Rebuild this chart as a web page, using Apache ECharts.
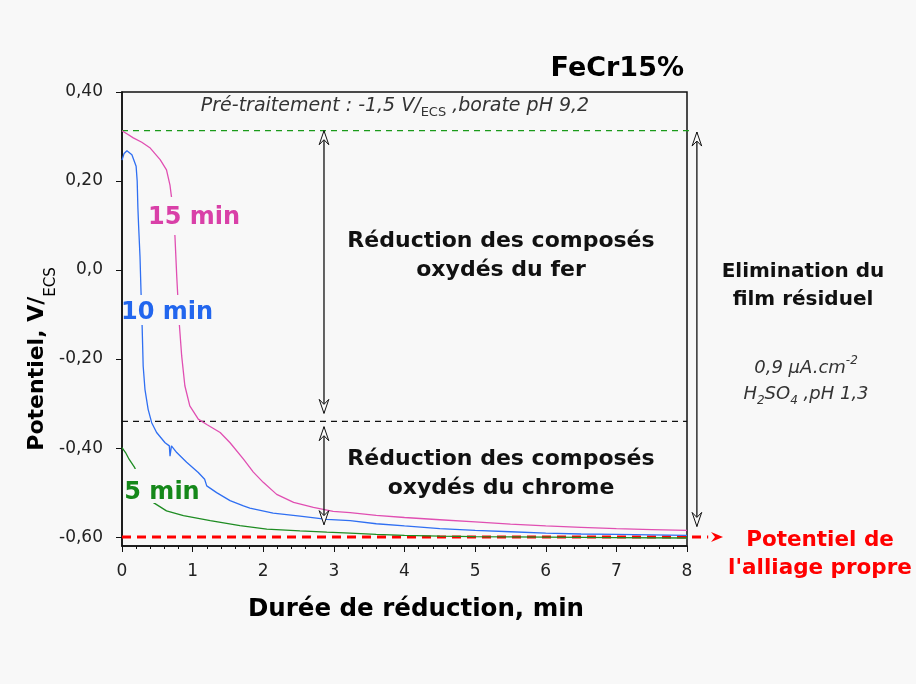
<!DOCTYPE html>
<html><head><meta charset="utf-8">
<script src="https://cdn.jsdelivr.net/npm/echarts@6.0.0/dist/echarts.min.js"></script>
<style>html,body{margin:0;padding:0;background:#f8f8f8;}#chart{width:916px;height:684px;}</style>
</head><body><div id="chart"></div>
<script>
// ---------- data ----------
const yTickValues = [-0.6, -0.4, -0.2, 0, 0.2, 0.4];
const yTickLabels = ['-0,60', '-0,40', '-0,20', '0,0', '0,20', '0,40'];
const seriesNames = ['15 min', '10 min', '5 min'];

// Durée de réduction (min), Potentiel (V/ECS)
const curve15min = [[0,0.313],[0.08,0.305],[0.16,0.297],[0.28,0.287],[0.40,0.274],[0.54,0.248],[0.63,0.225],[0.68,0.19],[0.70,0.165],[0.73,0.12],[0.75,0.075],[0.775,-0.014],[0.79,-0.059],[0.81,-0.118],[0.845,-0.193],[0.89,-0.26],[0.96,-0.305],[1.08,-0.335],[1.2,-0.347],[1.39,-0.365],[1.53,-0.388],[1.72,-0.425],[1.86,-0.454],[2.0,-0.477],[2.19,-0.504],[2.43,-0.522],[2.71,-0.533],[2.99,-0.542],[3.23,-0.545],[3.6,-0.551],[4,-0.556],[4.5,-0.561],[5,-0.566],[5.5,-0.571],[6,-0.575],[6.5,-0.578],[7,-0.581],[7.5,-0.583],[8,-0.585]];
const curve10min = [[0,0.247],[0.03,0.262],[0.07,0.268],[0.14,0.259],[0.20,0.233],[0.215,0.20],[0.225,0.14],[0.235,0.10],[0.255,0.03],[0.27,-0.052],[0.285,-0.126],[0.30,-0.216],[0.325,-0.268],[0.37,-0.313],[0.42,-0.343],[0.49,-0.365],[0.61,-0.388],[0.67,-0.395],[0.68,-0.418],[0.70,-0.395],[0.775,-0.41],[0.915,-0.432],[1.08,-0.455],[1.17,-0.47],[1.20,-0.485],[1.34,-0.50],[1.53,-0.518],[1.72,-0.530],[1.81,-0.535],[2.14,-0.546],[2.52,-0.553],[2.9,-0.560],[3.23,-0.563],[3.6,-0.570],[4,-0.575],[4.5,-0.581],[5,-0.585],[5.5,-0.588],[6,-0.591],[6.5,-0.593],[7,-0.594],[7.5,-0.595],[8,-0.596]];
const curve5min = [[0,-0.399],[0.05,-0.41],[0.10,-0.425],[0.18,-0.444],[0.25,-0.47],[0.33,-0.50],[0.44,-0.522],[0.63,-0.541],[0.87,-0.552],[1.25,-0.563],[1.67,-0.574],[2.05,-0.582],[2.52,-0.586],[2.9,-0.589],[3.23,-0.591],[3.6,-0.594],[4,-0.596],[4.5,-0.598],[5,-0.599],[6,-0.600],[7,-0.601],[8,-0.602]];

// reference levels: [x start, x end, potential]
const hLines = [[0, 8.05, 0.313], [0, 8, -0.34], [0, 8.3, -0.60]];
// vertical double arrows: [x, top potential, bottom potential]
const vArrows = [[2.86, 0.313, -0.322], [2.86, -0.352, -0.572], [8.14, 0.310, -0.576]];
// red arrow tip for clean-alloy potential
const redArrowTip = [[8.51, -0.60]];

// ---------- chart ----------
const F = 'DejaVu Sans';
const BG = '#f8f8f8';
const hLineStyles = [
  { stroke: '#1a9a1a', lineWidth: 1.3, lineDash: [6, 5] },
  { stroke: '#111', lineWidth: 1.3, lineDash: [6, 5] },
  { stroke: '#ff0000', lineWidth: 3, lineDash: [9, 6] }
];

function hollowHead(x, y, dir) {
  const L = 14, W = 4.8, N = 9;
  return { type: 'polygon', z2: 5,
    shape: { points: [[x, y], [x + W, y - dir * L], [x, y - dir * N], [x - W, y - dir * L]] },
    style: { fill: '#fafafa', stroke: '#111', lineWidth: 1 } };
}

function txt(x, y, text, style, extra) {
  return Object.assign({ type: 'text', x: x, y: y, z: 100,
    style: Object.assign({ text: text, align: 'center', verticalAlign: 'middle', fontFamily: F, fill: '#111' }, style) }, extra || {});
}
// background patch behind a curve label (the original leaves a gap in the curves there)
function patch(x, y, w, h) {
  return { type: 'rect', z: 99, shape: { x: x, y: y, width: w, height: h }, style: { fill: BG } };
}

const chart = echarts.init(document.getElementById('chart'));
const option = {
  backgroundColor: BG,
  animation: false,
  grid: { left: 122, right: 229, top: 92, bottom: 138, show: true, borderColor: '#111', borderWidth: 1.5, backgroundColor: 'transparent' },
  xAxis: {
    type: 'value', min: 0, max: 8, interval: 1,
    axisLine: { show: true, onZero: false, lineStyle: { color: '#111', width: 1.5 } },
    axisTick: { show: true, length: 6, lineStyle: { color: '#111' } },
    minorTick: { show: true, splitNumber: 5, length: 3, lineStyle: { color: '#111' } },
    axisLabel: { fontFamily: F, fontSize: 17, color: '#222', margin: 17 },
    splitLine: { show: false }
  },
  yAxis: {
    type: 'value', min: -0.62, max: 0.4,
    axisLine: { show: true, onZero: false, lineStyle: { color: '#111', width: 1.5 } },
    axisTick: { show: true, length: 6, customValues: yTickValues, lineStyle: { color: '#111' } },
    axisLabel: { customValues: yTickValues, fontFamily: F, fontSize: 17, color: '#222', margin: 19,
      formatter: function (v) { const i = yTickValues.findIndex(t => Math.abs(t - v) < 1e-6); return i >= 0 ? yTickLabels[i] : ''; } },
    splitLine: { show: false }
  },
  series: [
    { type: 'custom', name: 'levels', data: hLines, encode: { x: [0, 1], y: 2 }, clip: false, silent: true, z: 2,
      renderItem: function (params, api) {
        const p0 = api.coord([api.value(0), api.value(2)]);
        const p1 = api.coord([api.value(1), api.value(2)]);
        return { type: 'line', shape: { x1: p0[0], y1: p0[1], x2: p1[0], y2: p1[1] }, style: hLineStyles[params.dataIndex] };
      } },
    { type: 'line', name: seriesNames[0], data: curve15min, showSymbol: false, z: 3,
      lineStyle: { color: '#e04fb2', width: 1.3 }, itemStyle: { color: '#e04fb2' } },
    { type: 'line', name: seriesNames[1], data: curve10min, showSymbol: false, z: 3,
      lineStyle: { color: '#2f6ff2', width: 1.3 }, itemStyle: { color: '#2f6ff2' } },
    { type: 'line', name: seriesNames[2], data: curve5min, showSymbol: false, z: 3,
      lineStyle: { color: '#1e8c22', width: 1.3 }, itemStyle: { color: '#1e8c22' } },
    { type: 'custom', name: 'arrows', data: vArrows, encode: { x: 0, y: [1, 2] }, clip: false, silent: true, z: 4,
      renderItem: function (params, api) {
        const pt = api.coord([api.value(0), api.value(1)]);
        const pb = api.coord([api.value(0), api.value(2)]);
        return { type: 'group', children: [
          { type: 'line', shape: { x1: pt[0], y1: pt[1], x2: pb[0], y2: pb[1] }, style: { stroke: '#111', lineWidth: 1.3 } },
          hollowHead(pt[0], pt[1], -1),
          hollowHead(pb[0], pb[1], 1)
        ] };
      } },
    { type: 'custom', name: 'redTip', data: redArrowTip, encode: { x: 0, y: 1 }, clip: false, silent: true, z: 4,
      renderItem: function (params, api) {
        const p = api.coord([api.value(0), api.value(1)]);
        const x = p[0], y = p[1];
        return { type: 'polygon', shape: { points: [[x, y], [x - 12, y - 5], [x - 8, y], [x - 12, y + 5]] }, style: { fill: '#ff0000' } };
      } }
  ],
  graphic: [
    txt(684, 69, 'FeCr15%', { align: 'right', fontSize: 27, fontWeight: 'bold', fill: '#000' }),
    txt(395, 106, '{i|Pré-traitement : -1,5 V/}{s|ECS}{i| ,borate pH 9,2}', {
      rich: { i: { fontFamily: F, fontStyle: 'italic', fontSize: 19, lineHeight: 26, fill: '#333' },
              s: { fontFamily: F, fontSize: 13, lineHeight: 14, verticalAlign: 'bottom', fill: '#333' } } }),
    txt(501, 256, 'Réduction des composés\noxydés du fer', { fontSize: 22, fontWeight: 'bold', lineHeight: 29 }),
    txt(501, 474, 'Réduction des composés\noxydés du chrome', { fontSize: 22, fontWeight: 'bold', lineHeight: 29 }),
    txt(803, 286, 'Elimination du\nfilm résiduel', { fontSize: 20, fontWeight: 'bold', lineHeight: 28 }),
    txt(806, 381, '{t|0,9 µA.cm}{p|-2}\n{t|H}{b|2}{t|SO}{b|4}{t| ,pH 1,3}', {
      rich: { t: { fontFamily: F, fontStyle: 'italic', fontSize: 18, lineHeight: 26, fill: '#333' },
              p: { fontFamily: F, fontStyle: 'italic', fontSize: 12, lineHeight: 14, verticalAlign: 'top', fill: '#333' },
              b: { fontFamily: F, fontStyle: 'italic', fontSize: 12, lineHeight: 14, verticalAlign: 'bottom', fill: '#333' } } }),
    txt(820, 554, "Potentiel de\nl'alliage propre", { fontSize: 21.5, fontWeight: 'bold', lineHeight: 28, fill: '#ff0000' }),
    patch(147, 197, 93, 38),
    patch(124, 295, 89, 30),
    patch(124, 469, 36, 34),
    txt(194, 218, seriesNames[0], { fontSize: 24, fontWeight: 'bold', fill: '#d940a8' }),
    txt(167, 313, seriesNames[1], { fontSize: 24, fontWeight: 'bold', fill: '#2266ee' }),
    txt(162, 493, seriesNames[2], { fontSize: 24, fontWeight: 'bold', fill: '#15881a' }),
    txt(416, 610, 'Durée de réduction, min', { fontSize: 24.5, fontWeight: 'bold', fill: '#000' }),
    txt(37, 359, '{a|Potentiel, V/}{b|ECS}', {
      rich: { a: { fontFamily: F, fontWeight: 'bold', fontSize: 22, lineHeight: 44, fill: '#000' },
              b: { fontFamily: F, fontSize: 15, lineHeight: 16, verticalAlign: 'bottom', fill: '#000' } } },
      { rotation: Math.PI / 2 })
  ]
};
chart.setOption(option);
</script>
</body></html>
